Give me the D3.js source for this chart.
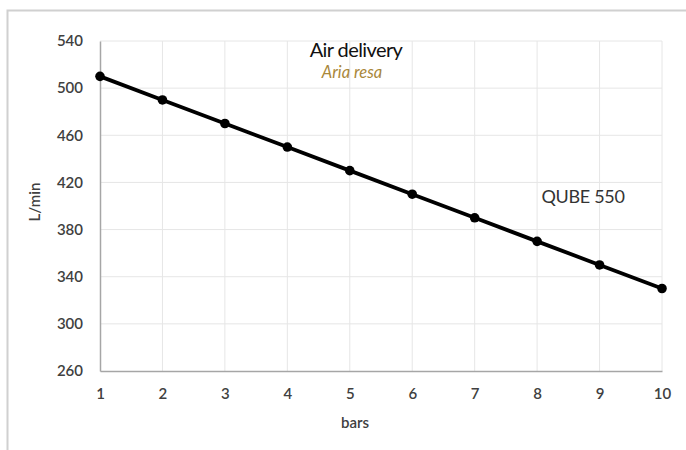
<!DOCTYPE html>
<html><head><meta charset="utf-8">
<script src="https://cdn.jsdelivr.net/npm/d3@7/dist/d3.min.js"></script>
<style>body{margin:0;background:#fff}svg{display:block;font-family:Lato,"Open Sans",sans-serif}</style>
</head><body><svg id="c" width="686" height="450"></svg>
<script>
const bars = [1,2,3,4,5,6,7,8,9,10];
const flow = [510,490,470,450,430,410,390,370,350,330];
const yTicks = [260,300,340,380,420,460,500,540];
const xTicks = [1,2,3,4,5,6,7,8,9,10];
const title = "Air delivery", subtitle = "Aria resa", seriesLabel = "QUBE 550";

const svg = d3.select("#c");
const x = d3.scaleLinear().domain([1,10]).range([100,662]);
const y = d3.scaleLinear().domain([260,540]).range([371,41]);

// frame
svg.append("path").attr("d","M7.5,450 L7.5,10.5 L686,10.5").attr("fill","none").attr("stroke","#d0d0d0").attr("stroke-width",2);

// grid
svg.append("g").selectAll("line").data(yTicks.slice(1)).join("line")
 .attr("x1",x(1)).attr("x2",x(10)).attr("y1",d=>y(d)).attr("y2",d=>y(d)).attr("stroke","#e6e6e6");
svg.append("g").selectAll("line").data(xTicks.slice(1)).join("line")
 .attr("y1",y(260)).attr("y2",y(540)).attr("x1",d=>x(d)).attr("x2",d=>x(d)).attr("stroke","#e6e6e6");

// axes
const ya = svg.append("g").attr("transform",`translate(${x(1)},0)`).call(d3.axisLeft(y).tickValues(yTicks).tickSize(0).tickPadding(17));
const xa = svg.append("g").attr("transform",`translate(0,${y(260)})`).call(d3.axisBottom(x).tickValues(xTicks).tickSize(0).tickPadding(17));
[ya,xa].forEach(a=>{a.select(".domain").attr("stroke","#a6a6a6").attr("stroke-width",1.5);
 a.selectAll("text").attr("font-size",15).attr("font-weight",600).attr("fill","#404040").attr("font-family","Lato,sans-serif");});

// line
svg.append("path").datum(bars.map((b,i)=>[b,flow[i]]))
 .attr("d",d3.line().x(d=>x(d[0])).y(d=>y(d[1]))).attr("fill","none").attr("stroke","#000").attr("stroke-width",3.8);
svg.append("g").selectAll("circle").data(bars).join("circle")
 .attr("cx",d=>x(d)).attr("cy",(d,i)=>y(flow[i])).attr("r",4.8).attr("fill","#000");

// texts
svg.append("text").attr("x",356).attr("y",57).attr("text-anchor","middle").attr("font-size",20).attr("fill","#111").attr("letter-spacing",-0.6).text(title);
svg.append("text").attr("x",352).attr("y",78).attr("text-anchor","middle").attr("font-size",16.5).attr("font-style","italic").attr("fill","#a9873a").text(subtitle);
svg.append("text").attr("x",583).attr("y",203).attr("text-anchor","middle").attr("font-size",18).attr("fill","#333").attr("letter-spacing",-0.3).text(seriesLabel);
svg.append("text").attr("x",355).attr("y",428).attr("text-anchor","middle").attr("font-size",15).attr("font-weight",600).attr("fill","#404040").text("bars");
svg.append("text").attr("transform","translate(40,202) rotate(-90)").attr("text-anchor","middle").attr("font-size",15).attr("font-weight",600).attr("fill","#404040").text("L/min");
</script></body></html>
